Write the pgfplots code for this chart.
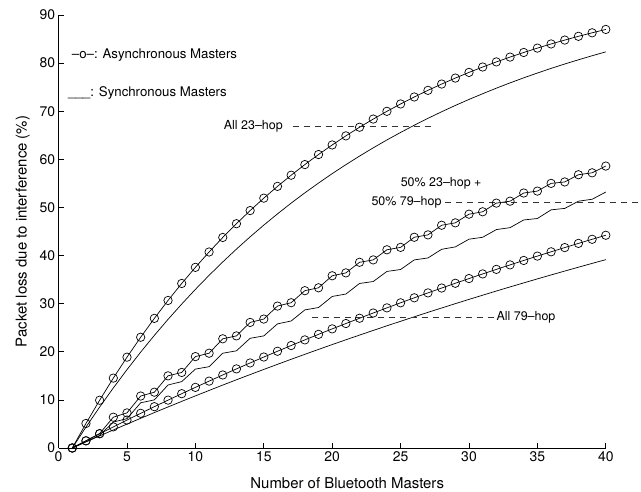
\documentclass[border=0pt]{standalone}
\usepackage{fontspec}
\setmainfont{TeX Gyre Heros}
\usepackage{pgfplots}
\pgfplotsset{compat=1.18}
\begin{document}
\begin{tikzpicture}
\useasboundingbox (0,0) rectangle (641bp,492bp);
\begin{axis}[
  at={(58.6bp,44bp)}, anchor=south west,
  scale only axis, width=547.2bp, height=433bp,
  xmin=0, xmax=40, ymin=0, ymax=90,
  axis x line*=bottom, axis y line*=left,
  axis line style={-, line width=0.7bp},
  xtick={0,5,...,40}, ytick={0,10,...,90},
  tick align=inside, major tick length=5bp,
  tick style={line width=0.7bp, black},
  /pgf/number format/assume math mode=true,
  tick label style={font=\fontsize{14}{16}\selectfont},
  xlabel={Number of Bluetooth Masters},
  ylabel={Packet loss due to interference (\%)},
  label style={font=\fontsize{15}{17}\selectfont},
  xlabel style={xshift=15bp, yshift=-9bp},
  ylabel style={yshift=3bp},
  clip=false,
  every axis plot/.append style={black, line width=0.7bp},
  mark size=4.2bp,
]
% Asynchronous, all 23-hop
\addplot[mark=o] coordinates {
(1,0)(2,5.10)(3,9.93)(4,14.53)(5,18.88)(6,23.02)(7,26.94)(8,30.67)(9,34.20)(10,37.55)
(11,40.74)(12,43.76)(13,46.62)(14,49.35)(15,51.93)(16,54.38)(17,56.70)(18,58.91)(19,61.00)(20,62.99)
(21,64.88)(22,66.67)(23,68.37)(24,69.98)(25,71.51)(26,72.96)(27,74.34)(28,75.65)(29,76.89)(30,78.07)
(31,79.19)(32,80.25)(33,81.25)(34,82.21)(35,83.12)(36,83.98)(37,84.79)(38,85.57)(39,86.30)(40,87.00)};
% Synchronous, all 23-hop
\addplot[no marks] coordinates {
(1,0)(2,4.35)(3,8.51)(4,12.48)(5,16.29)(6,19.93)(7,23.41)(8,26.74)(9,29.92)(10,32.97)
(11,35.89)(12,38.67)(13,41.34)(14,43.89)(15,46.33)(16,48.66)(17,50.90)(18,53.03)(19,55.07)(20,57.03)
(21,58.89)(22,60.68)(23,62.39)(24,64.03)(25,65.59)(26,67.09)(27,68.52)(28,69.89)(29,71.20)(30,72.45)
(31,73.64)(32,74.79)(33,75.89)(34,76.94)(35,77.94)(36,78.90)(37,79.82)(38,80.69)(39,81.53)(40,82.34)};
% Asynchronous, 50/50
\addplot[mark=o] coordinates {
(1,0)(2,1.5)(3,3.0)(4,6.4)(5,7.3)(6,10.8)(7,11.6)(8,15.0)(9,15.7)(10,19.0)
(11,19.7)(12,22.7)(13,23.3)(14,26.1)(15,26.8)(16,29.5)(17,30.2)(18,32.7)(19,33.3)(20,35.8)
(21,36.4)(22,38.6)(23,39.1)(24,41.2)(25,41.7)(26,43.8)(27,44.3)(28,46.3)(29,46.8)(30,48.6)
(31,49.1)(32,50.9)(33,51.3)(34,53.0)(35,53.4)(36,55.0)(37,55.3)(38,56.8)(39,57.2)(40,58.6)};
% Synchronous, 50/50
\addplot[no marks] coordinates {
(1,0)(2,1.3)(3,2.6)(4,5.4)(5,6.1)(6,9.4)(7,10.0)(8,13.1)(9,13.8)(10,16.4)
(11,16.9)(12,19.7)(13,20.2)(14,22.8)(15,23.3)(16,25.8)(17,26.4)(18,28.7)(19,29.2)(20,31.5)
(21,32.0)(22,34.2)(23,34.6)(24,36.7)(25,37.1)(26,39.1)(27,39.5)(28,41.3)(29,41.8)(30,43.4)
(31,43.8)(32,45.4)(33,45.8)(34,47.4)(35,47.7)(36,49.5)(37,49.8)(38,51.3)(39,51.7)(40,53.2)};
% Asynchronous, all 79-hop
\addplot[mark=o] coordinates {
(1,0)(2,1.49)(3,2.95)(4,4.39)(5,5.81)(6,7.21)(7,8.59)(8,9.95)(9,11.29)(10,12.60)
(11,13.90)(12,15.18)(13,16.44)(14,17.68)(15,18.91)(16,20.11)(17,21.30)(18,22.47)(19,23.62)(20,24.76)
(21,25.87)(22,26.97)(23,28.06)(24,29.13)(25,30.18)(26,31.22)(27,32.24)(28,33.25)(29,34.24)(30,35.22)
(31,36.18)(32,37.13)(33,38.06)(34,38.98)(35,39.89)(36,40.78)(37,41.66)(38,42.53)(39,43.38)(40,44.22)};
% Synchronous, all 79-hop
\addplot[no marks] coordinates {
(1,0)(2,1.27)(3,2.52)(4,3.75)(5,4.97)(6,6.17)(7,7.36)(8,8.53)(9,9.69)(10,10.83)
(11,11.96)(12,13.08)(13,14.18)(14,15.26)(15,16.33)(16,17.39)(17,18.44)(18,19.47)(19,20.49)(20,21.50)
(21,22.49)(22,23.47)(23,24.44)(24,25.40)(25,26.34)(26,27.27)(27,28.20)(28,29.10)(29,30.00)(30,30.89)
(31,31.76)(32,32.63)(33,33.48)(34,34.32)(35,35.15)(36,35.97)(37,36.78)(38,37.58)(39,38.37)(40,39.15)};
% annotations
\draw[black!80, line width=0.7bp, dash pattern=on 6bp off 5bp] (axis cs:17.1,66.8) -- (axis cs:27.5,66.8);
\draw[black!80, line width=0.7bp, dash pattern=on 6bp off 5bp] (axis cs:28.25,51.1) -- (axis cs:42.8,51.1);
\draw[black!80, line width=0.7bp, dash pattern=on 6bp off 5bp] (axis cs:18.5,27.1) -- (axis cs:31.8,27.1);
\begin{scope}[every node/.style={inner sep=0pt, font=\fontsize{12.5}{14}\selectfont}]
\node[anchor=east] at (axis cs:16.4,66.9) {All 23–hop};
\node[anchor=west] at (axis cs:25.0,55.0) {50\% 23–hop +};
\node[anchor=east] at (axis cs:28.0,51.1) {50\% 79–hop};
\node[anchor=west] at (axis cs:32.0,27.1) {All 79–hop};
\end{scope}
\begin{scope}[every node/.style={inner sep=0pt, font=\fontsize{13.3}{15}\selectfont}]
\node[anchor=base west] at (axis cs:0.96,80.9) {–o–: Asynchronous Masters};
\node[anchor=base west] at (axis cs:0.69,73.0) {\_\_\_: Synchronous Masters};
\end{scope}
\end{axis}
\end{tikzpicture}
\end{document}
